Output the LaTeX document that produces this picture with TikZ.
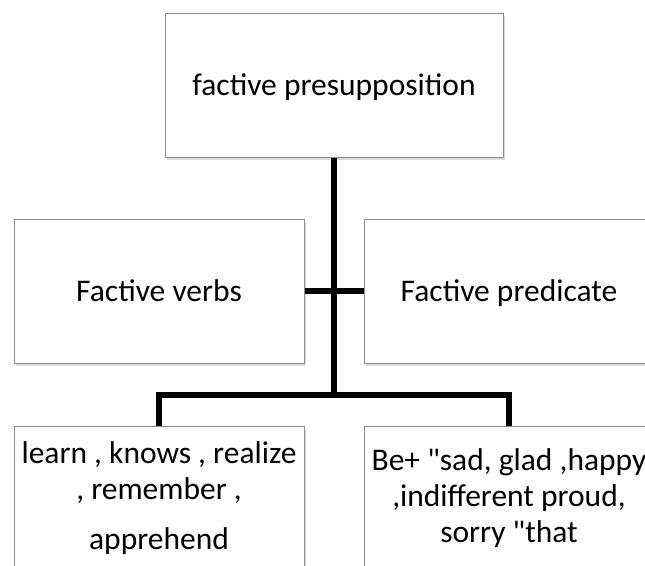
\documentclass[tikz,border=0pt]{standalone}
\usepackage{fontspec}
\setmainfont{Carlito}
\newfontfamily\carlito{Carlito}
\usetikzlibrary{shadows}
\definecolor{boxgray}{HTML}{8C8C8C}
\begin{document}
\begin{tikzpicture}[x=1pt,y=-1pt,
  box/.style={draw=boxgray, line width=1pt, fill=white,
    minimum width=290pt, minimum height=144pt, inner sep=0pt,
    align=center, font=\carlito\fontsize{31.5}{36}\selectfont,
    drop shadow={shadow xshift=2pt, shadow yshift=-2.5pt, opacity=0.3}},
  oneline/.style={text height=21pt, text depth=0pt},
  conn/.style={line width=5.5pt, draw=black}]
\useasboundingbox (0,0) rectangle (645,565);
% boxes
\node[box, oneline, minimum width=338pt] (top) at (334,85) {factive presupposition};
\node[box, oneline] (ml) at (159,291) {Factive verbs};
\node[box, oneline] (mr) at (509,291) {Factive predicate};
\node[box] (bl) at (159,498) {learn , knows , realize\\, remember ,\\[14pt]apprehend};
\node[box] (br) at (509,498) {Be+ "sad, glad ,happy\\,indifferent proud,\\sorry "that};
% junction of the lower bar
\coordinate (j) at (334,395);
% connectors
\draw[conn] (top.south) -- (j);
\draw[conn] (bl.north) |- (j) -| (br.north);
\draw[conn] (ml.east) -- (mr.west);
\end{tikzpicture}
\end{document}
